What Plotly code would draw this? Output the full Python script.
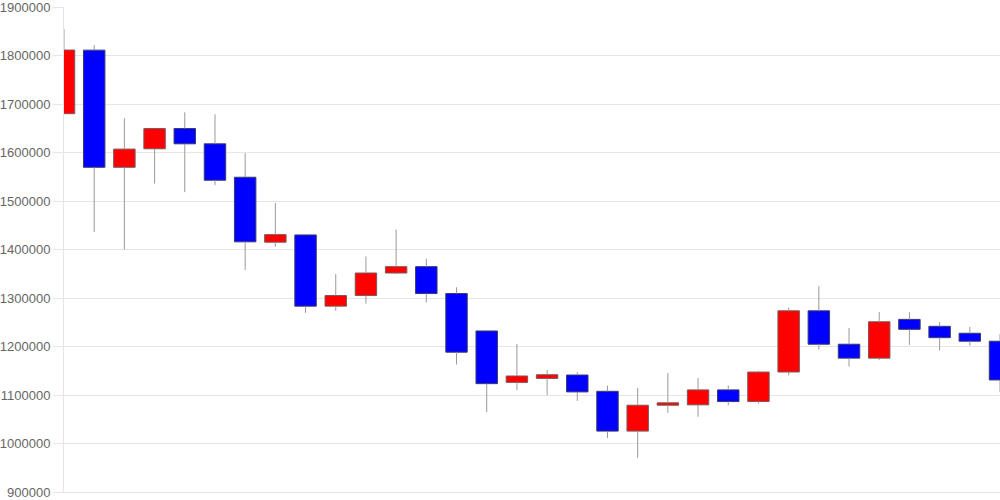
import plotly.graph_objects as go

idx = list(range(32))
open_ = [1680000, 1811000, 1569500, 1607600, 1649400, 1617900, 1549000, 1415000,
         1430000, 1283200, 1305100, 1351500, 1364600, 1309200, 1232000, 1126000,
         1134200, 1141200, 1107600, 1025600, 1078900, 1079700, 1110500, 1086500,
         1147400, 1273600, 1204700, 1176000, 1255900, 1241600, 1227300, 1210900]
close = [1811300, 1569500, 1607000, 1649400, 1617900, 1542800, 1415800, 1430700,
         1283200, 1305100, 1351500, 1364600, 1309200, 1188300, 1123400, 1139200,
         1141800, 1106400, 1025600, 1078900, 1083900, 1110500, 1086500, 1147300,
         1273600, 1204700, 1176000, 1251000, 1235400, 1218200, 1210900, 1131000]
high = [1854300, 1821500, 1670500, 1649400, 1682800, 1678700, 1598800, 1495700,
        1432000, 1349400, 1385700, 1441000, 1380900, 1322100, 1232000, 1205300,
        1151400, 1147300, 1119300, 1114600, 1145300, 1135100, 1119900, 1150000,
        1280500, 1324200, 1238100, 1270900, 1270900, 1250400, 1240200, 1225200]
low = [1680000, 1436200, 1400000, 1535900, 1518200, 1532600, 1357600, 1405500,
       1269500, 1273600, 1288700, 1349400, 1290800, 1162900, 1064600, 1109600,
       1099400, 1087900, 1011300, 970300, 1063300, 1055100, 1078900, 1082400,
       1140400, 1193700, 1158800, 1171900, 1203300, 1191600, 1201900, 1105600]
y_ticks = [900000, 1000000, 1100000, 1200000, 1300000, 1400000, 1500000,
           1600000, 1700000, 1800000, 1900000]

UP_FILL, DOWN_FILL = "#ff0000", "#0000ff"
UP_EDGE, DOWN_EDGE = "#7a5a5a", "#3a3a6a"
WICK = "#999999"

body_lo = [min(o, c) for o, c in zip(open_, close)]
body_hi = [max(o, c) for o, c in zip(open_, close)]

# wicks: low -> body bottom, body top -> high (body itself stays clean)
wx, wy = [], []
for i, lo, hi, blo, bhi in zip(idx, low, high, body_lo, body_hi):
    if lo < blo:
        wx += [i, i, None]
        wy += [lo, blo, None]
    if hi > bhi:
        wx += [i, i, None]
        wy += [bhi, hi, None]

is_up = [c >= o for o, c in zip(open_, close)]
height = [max(h - l, 1500) for l, h in zip(body_lo, body_hi)]

fig = go.Figure()
fig.add_trace(go.Scatter(x=wx, y=wy, mode="lines",
                         line=dict(color=WICK, width=1), hoverinfo="skip"))
fig.add_trace(go.Bar(
    x=idx, y=height, base=body_lo, width=0.71,
    marker=dict(color=[UP_FILL if u else DOWN_FILL for u in is_up],
                line=dict(color=[UP_EDGE if u else DOWN_EDGE for u in is_up], width=1)),
))

fig.update_layout(
    width=1000, height=500,
    margin=dict(l=63, r=0, t=6, b=6),
    paper_bgcolor="white", plot_bgcolor="white",
    showlegend=False,
    font=dict(family="Liberation Sans, Arial, sans-serif"),
    xaxis=dict(range=[0, 31], showticklabels=False, showgrid=False,
               zeroline=False, showline=True, linecolor="#e6e6e6",
               linewidth=1, ticks=""),
    yaxis=dict(range=[900000, 1900000], tickvals=y_ticks,
               ticktext=[str(v) for v in y_ticks],
               gridcolor="#e6e6e6", gridwidth=1, zeroline=False,
               showline=True, linecolor="#e6e6e6", linewidth=1,
               ticks="outside", ticklen=10, tickcolor="#e6e6e6",
               ticklabeloverflow="allow",
               tickfont=dict(size=13, color="#666666")),
)

fig.write_html("out.html",
               config={"displayModeBar": False},
               post_script="document.body.style.margin='0';document.body.style.overflow='hidden';")
